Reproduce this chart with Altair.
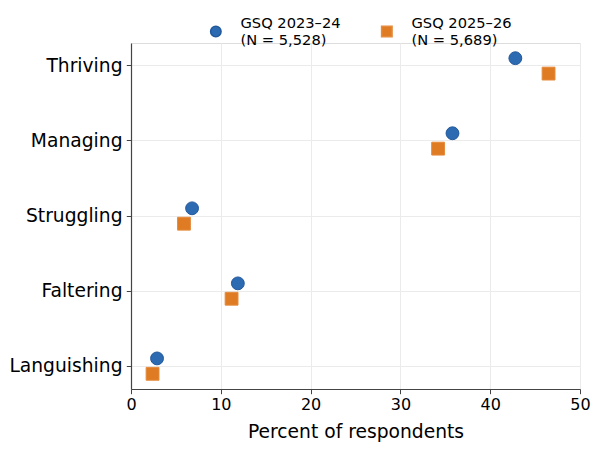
import altair as alt
import pandas as pd

categories = ["Thriving", "Managing", "Struggling", "Faltering", "Languishing"]
series_names = ["GSQ 2023–24\n(N = 5,528)", "GSQ 2025–26\n(N = 5,689)"]
values_2023 = [42.8, 35.8, 6.8, 11.9, 2.9]
values_2025 = [46.5, 34.2, 5.9, 11.2, 2.4]
x_ticks = [0, 10, 20, 30, 40, 50]

fill_colors = ["#2c6bb2", "#df7b22"]
stroke_colors = ["#23599c", "#e58b3e"]
shapes = ["circle", "square"]

rows = []
for c, v in zip(categories, values_2023):
    rows.append({"category": c, "series": series_names[0], "value": v})
for c, v in zip(categories, values_2025):
    rows.append({"category": c, "series": series_names[1], "value": v})
df = pd.DataFrame(rows)

FONT = "DejaVu Sans"

legend = alt.Legend(title=None, orient="none", direction="horizontal",
                    legendX=77.5, legendY=-19, padding=0,
                    symbolSize=110, labelOffset=17.3, columnPadding=37,
                    labelFont=FONT, labelFontSize=14.67, labelColor="black",
                    labelBaseline="bottom",
                    labelExpr="split(datum.label, '\\n')")

points = alt.Chart(df).mark_point(filled=True, opacity=1, strokeWidth=1).encode(
    x=alt.X("value:Q",
            scale=alt.Scale(domain=[0, 50], nice=False, zero=False),
            axis=alt.Axis(values=x_ticks, title="Percent of respondents",
                          grid=True, gridColor="#ebebeb", gridWidth=1,
                          domainColor="#444", domainWidth=1.2,
                          tickColor="#444", tickSize=4.7, tickWidth=1,
                          labelFont=FONT, labelFontSize=16, labelColor="black",
                          labelPadding=2.5, labelFlush=False,
                          titleFont=FONT, titleFontSize=18.7, titleFontWeight="normal",
                          titleColor="black", titlePadding=10)),
    y=alt.Y("category:N", sort=categories,
            scale=alt.Scale(paddingInner=0.59, paddingOuter=0.1),
            axis=alt.Axis(title=None, grid=True, gridColor="#ebebeb", gridWidth=1,
                          domainColor="#444", domainWidth=1.2,
                          tickColor="#444", tickSize=4.7, tickWidth=1,
                          labelFont=FONT, labelFontSize=18.7, labelColor="black",
                          labelPadding=4.3)),
    yOffset=alt.YOffset("series:N", sort=series_names),
    color=alt.Color("series:N", sort=series_names,
                    scale=alt.Scale(domain=series_names, range=fill_colors),
                    legend=legend),
    shape=alt.Shape("series:N", sort=series_names,
                    scale=alt.Scale(domain=series_names, range=shapes),
                    legend=legend),
    stroke=alt.Stroke("series:N", sort=series_names,
                      scale=alt.Scale(domain=series_names, range=stroke_colors),
                      legend=None),
    size=alt.value(165),
)

chart = points.properties(
    width=449, height=346,
    padding={"left": 123, "top": 35, "right": 12, "bottom": 54},
    autosize=alt.AutoSizeParams(type="none"),
).configure_view(stroke=None).configure(background="white")

chart.save("out.html", embed_options={"renderer": "svg", "actions": False})
